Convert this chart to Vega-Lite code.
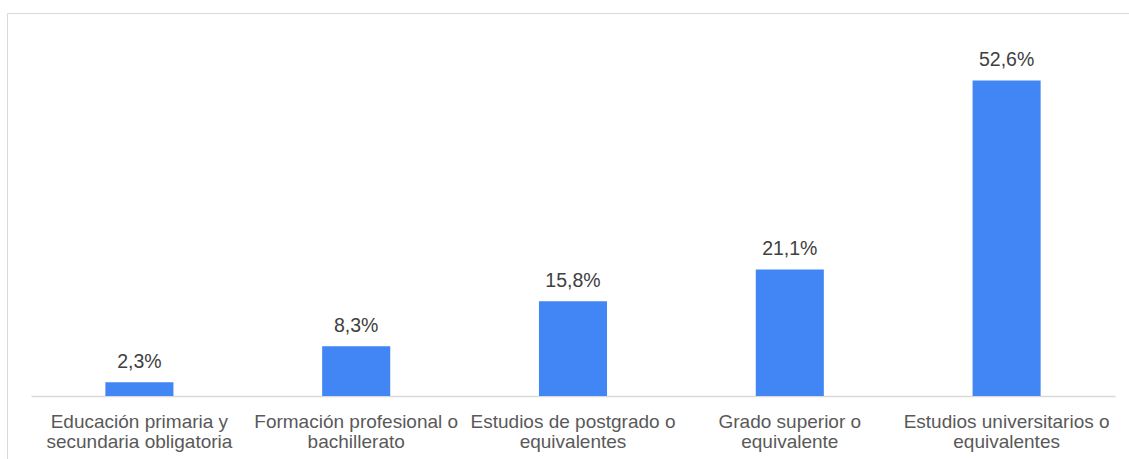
{
  "$schema": "https://vega.github.io/schema/vega-lite/v6.json",
  "autosize": {"type": "none"},
  "padding": {"left": 7, "top": 13, "right": -28, "bottom": -20},
  "width": 1150,
  "height": 466,
  "background": "white",
  "config": {
    "view": {"stroke": "#d9d9d9", "strokeWidth": 1},
    "font": "Liberation Sans"
  },
  "data": {
    "values": [
      {"nivel": "Educación primaria y|secundaria obligatoria", "pct": 2.3, "etiqueta": "2,3%"},
      {"nivel": "Formación profesional o|bachillerato", "pct": 8.3, "etiqueta": "8,3%"},
      {"nivel": "Estudios de postgrado o|equivalentes", "pct": 15.8, "etiqueta": "15,8%"},
      {"nivel": "Grado superior o|equivalente", "pct": 21.1, "etiqueta": "21,1%"},
      {"nivel": "Estudios universitarios o|equivalentes", "pct": 52.6, "etiqueta": "52,6%"}
    ]
  },
  "encoding": {
    "x": {
      "field": "nivel",
      "type": "nominal",
      "sort": null,
      "scale": {"range": [24, 1108], "paddingInner": 0.686, "paddingOuter": 0.343},
      "axis": {
        "title": null,
        "orient": "bottom",
        "offset": -83,
        "labelAngle": 0,
        "labelExpr": "split(datum.label, '|')",
        "labelFont": "Liberation Sans",
        "labelFontSize": 19,
        "labelColor": "#595959",
        "labelLineHeight": 20.5,
        "labelPadding": 16,
        "labelLimit": 400,
        "labelOverlap": false,
        "labelBound": false,
        "ticks": false,
        "tickSize": 0,
        "domainColor": "#d9d9d9",
        "domainWidth": 1.3,
        "grid": false
      }
    },
    "y": {
      "field": "pct",
      "type": "quantitative",
      "scale": {"domain": [0, 60], "range": [383, 23], "nice": false, "zero": true},
      "axis": null
    }
  },
  "layer": [
    {"mark": {"type": "bar", "color": "#4285F4"}},
    {
      "mark": {"type": "text", "baseline": "alphabetic", "dy": -14, "fontSize": 19.5, "font": "Liberation Sans", "color": "#404040"},
      "encoding": {"text": {"field": "etiqueta"}}
    }
  ]
}
